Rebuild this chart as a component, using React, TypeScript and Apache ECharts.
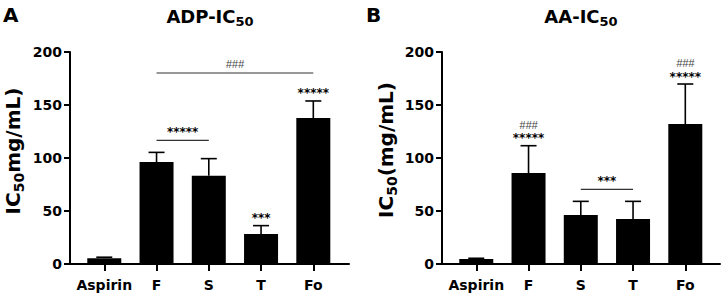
import React, { useEffect, useRef } from "react";
import * as echarts from "echarts";

const categories = ["Aspirin", "F", "S", "T", "Fo"];
const adpMean = [5.5, 96.2, 83.3, 28.3, 137.7];
const adpErr = [0.9, 9.1, 16.1, 7.9, 16.1];
const adpStars = ["", "", "", "***", "*****"];
const adpHashes = ["", "", "", "", ""];
const adpBracketFrom = [1, 1];
const adpBracketTo = [4, 2];
const adpBracketY = [180.2, 116.6];
const adpBracketLabel = ["###", "*****"];

const aaMean = [4.7, 85.8, 46.2, 42.5, 132.0];
const aaErr = [0.7, 25.8, 12.9, 16.6, 37.8];
const aaStars = ["", "*****", "", "", "*****"];
const aaHashes = ["", "###", "", "", "###"];
const aaBracketFrom = [2];
const aaBracketTo = [3];
const aaBracketY = [70.4];
const aaBracketLabel = ["***"];

const yTicks = { min: 0, max: 200, interval: 50 };

const FONT = '"DejaVu Sans", sans-serif';
const HASH_FONT = '"Liberation Sans", sans-serif';

const starStyle = (text: string) => ({
  text,
  fontFamily: FONT,
  fontWeight: "bold",
  fontSize: 12,
  fill: "#000",
  align: "center",
  verticalAlign: "middle",
});
const hashStyle = (text: string) => ({
  text,
  fontFamily: HASH_FONT,
  fontStyle: "italic",
  fontSize: 11,
  fill: "#444",
  align: "center",
  verticalAlign: "middle",
});

function buildSeries(
  gi: number,
  mean: number[],
  err: number[],
  stars: string[],
  hashes: string[],
  bFrom: number[],
  bTo: number[],
  bY: number[],
  bLabel: string[]
) {
  const idx = categories.map((_, i) => i);
  return [
    {
      type: "bar",
      xAxisIndex: gi,
      yAxisIndex: gi,
      barWidth: 34,
      itemStyle: { color: "#000" },
      data: idx.map((i) => [i, mean[i]]),
      silent: true,
    },
    {
      type: "custom",
      xAxisIndex: gi,
      yAxisIndex: gi,
      itemStyle: { color: "#000" },
      data: idx.map((i) => [i, mean[i], mean[i] + err[i]]),
      encode: { x: 0, y: [1, 2] },
      silent: true,
      renderItem: (params: any, api: any) => {
        const x = api.value(0);
        const p0 = api.coord([x, api.value(1)]);
        const p1 = api.coord([x, api.value(2)]);
        const i = params.dataIndex;
        const children: any[] = [
          {
            type: "line",
            shape: { x1: p0[0], y1: p0[1], x2: p1[0], y2: p1[1] },
            style: { stroke: "#000", lineWidth: 1.6 },
          },
          {
            type: "line",
            shape: { x1: p1[0] - 8, y1: p1[1], x2: p1[0] + 8, y2: p1[1] },
            style: { stroke: "#000", lineWidth: 1.6 },
          },
        ];
        if (stars[i]) {
          children.push({ type: "text", x: p1[0], y: p1[1] - 7.5, style: starStyle(stars[i]) });
        }
        if (hashes[i]) {
          children.push({ type: "text", x: p1[0], y: p1[1] - 21, style: hashStyle(hashes[i]) });
        }
        return { type: "group", children };
      },
    },
    {
      type: "custom",
      xAxisIndex: gi,
      yAxisIndex: gi,
      itemStyle: { color: "#000" },
      data: bFrom.map((f, k) => [f, bTo[k], bY[k]]),
      encode: { x: [0, 1], y: 2 },
      silent: true,
      renderItem: (params: any, api: any) => {
        const a = api.coord([api.value(0), api.value(2)]);
        const b = api.coord([api.value(1), api.value(2)]);
        const label = bLabel[params.dataIndex];
        const isHash = label.indexOf("#") >= 0;
        return {
          type: "group",
          children: [
            {
              type: "line",
              shape: { x1: a[0], y1: a[1], x2: b[0], y2: b[1] },
              style: { stroke: "#333", lineWidth: 1.2 },
            },
            {
              type: "text",
              x: (a[0] + b[0]) / 2,
              y: a[1] - 8.5,
              style: isHash ? hashStyle(label) : starStyle(label),
            },
          ],
        };
      },
    },
  ];
}

function xAxisCfg(gi: number, min: number, max: number) {
  const vals = categories.map((_, i) => i);
  return {
    type: "value",
    gridIndex: gi,
    min,
    max,
    splitLine: { show: false },
    axisLine: { show: true, lineStyle: { color: "#000", width: 2 } },
    axisTick: {
      show: true,
      length: 7,
      lineStyle: { color: "#000", width: 2 },
      customValues: vals,
    },
    axisLabel: {
      customValues: vals,
      margin: 14,
      fontFamily: FONT,
      fontWeight: "bold",
      fontSize: 14,
      color: "#000",
      formatter: (v: number) => categories[Math.round(v)] ?? "",
    },
  };
}

function yAxisCfg(gi: number) {
  return {
    type: "value",
    gridIndex: gi,
    min: yTicks.min,
    max: yTicks.max,
    interval: yTicks.interval,
    splitLine: { show: false },
    axisLine: { show: true, onZero: false, lineStyle: { color: "#000", width: 2 } },
    axisTick: { show: true, length: 6, lineStyle: { color: "#000", width: 2 } },
    axisLabel: {
      margin: 8,
      fontFamily: FONT,
      fontWeight: "bold",
      fontSize: 14,
      color: "#000",
    },
  };
}

function titleRich(main: number, sub: number) {
  return {
    a: { fontFamily: FONT, fontWeight: "bold", fontSize: main, fill: "#000", lineHeight: main + 6 },
    b: {
      fontFamily: FONT,
      fontWeight: "bold",
      fontSize: sub,
      fill: "#000",
      lineHeight: sub,
      verticalAlign: "bottom",
    },
  };
}

export default function App() {
  const ref = useRef<HTMLDivElement>(null);
  useEffect(() => {
    if (!ref.current) return;
    const chart = echarts.init(ref.current, null, { renderer: "svg" });
    chart.setOption({
      animation: false,
      backgroundColor: "#fff",
      grid: [
        { left: 70, top: 52, width: 279, height: 212 },
        { left: 442, top: 52, width: 278, height: 212 },
      ],
      xAxis: [xAxisCfg(0, -0.656, 4.683), xAxisCfg(1, -0.656, 4.664)],
      yAxis: [yAxisCfg(0), yAxisCfg(1)],
      series: [
        ...buildSeries(0, adpMean, adpErr, adpStars, adpHashes, adpBracketFrom, adpBracketTo, adpBracketY, adpBracketLabel),
        ...buildSeries(1, aaMean, aaErr, aaStars, aaHashes, aaBracketFrom, aaBracketTo, aaBracketY, aaBracketLabel),
      ],
      graphic: [
        {
          type: "text",
          x: 3,
          y: 15,
          style: { text: "A", fontFamily: FONT, fontWeight: "bold", fontSize: 20, fill: "#000", align: "left", verticalAlign: "middle" },
        },
        {
          type: "text",
          x: 366,
          y: 15,
          style: { text: "B", fontFamily: FONT, fontWeight: "bold", fontSize: 20, fill: "#000", align: "left", verticalAlign: "middle" },
        },
        {
          type: "text",
          x: 210,
          y: 16,
          style: { text: "{a|ADP-IC}{b|50}", rich: titleRich(18, 13), align: "center", verticalAlign: "middle" },
        },
        {
          type: "text",
          x: 581,
          y: 16,
          style: { text: "{a|AA-IC}{b|50}", rich: titleRich(18, 13), align: "center", verticalAlign: "middle" },
        },
        {
          type: "text",
          x: 13,
          y: 151,
          rotation: Math.PI / 2,
          style: { text: "{a|IC}{b|50}{a|mg/mL)}", rich: titleRich(20, 14), align: "center", verticalAlign: "middle" },
        },
        {
          type: "text",
          x: 386,
          y: 150,
          rotation: Math.PI / 2,
          style: { text: "{a|IC}{b|50}{a|(mg/mL)}", rich: titleRich(20, 14), align: "center", verticalAlign: "middle" },
        },
      ],
    });
    return () => chart.dispose();
  }, []);
  return <div ref={ref} style={{ position: "fixed", left: 0, top: 0, width: 726, height: 297 }} />;
}
